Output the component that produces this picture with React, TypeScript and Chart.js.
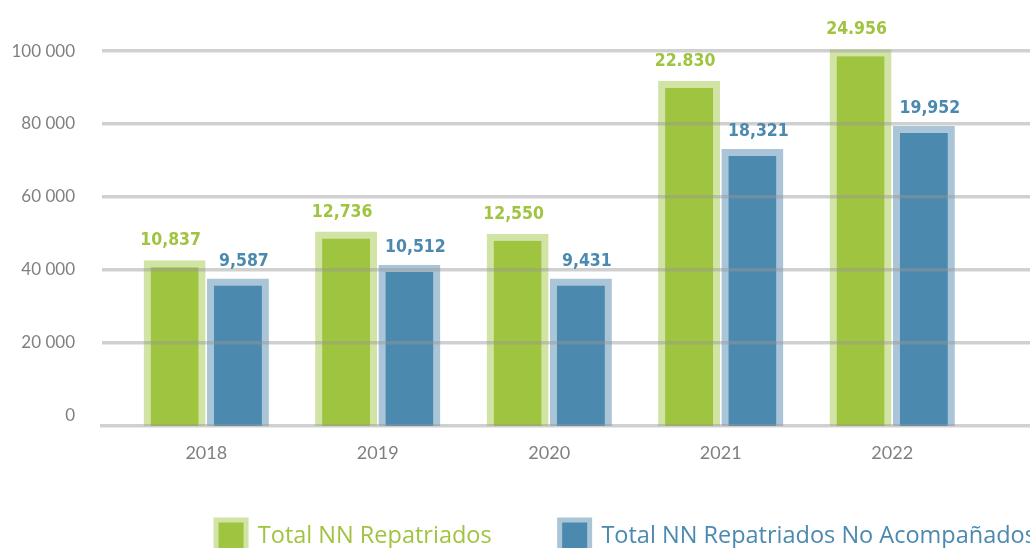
import React, { useEffect, useRef } from 'react';
import { Chart, registerables } from 'chart.js';

Chart.register(...registerables);

const years = ['2018', '2019', '2020', '2021', '2022'];
const seriesNames = ['Total NN Repatriados', 'Total NN Repatriados No Acompañados'];
const repatriados = [42500, 50400, 49800, 91800, 100500];
const noAcompanados = [37500, 41300, 37500, 73100, 79400];
const repatriadosLabels = ['10,837', '12,736', '12,550', '22.830', '24.956'];
const noAcompanadosLabels = ['9,587', '10,512', '9,431', '18,321', '19,952'];
const yTicks = [0, 20000, 40000, 60000, 80000, 100000];

const GREEN = '#9fc43f';
const GREEN_HALO = '#d1e4a6';
const BLUE = '#4b89af';
const BLUE_HALO = '#a9c5d7';
const GRID = 'rgba(150,150,150,0.45)';

const CANVAS_W = 1252;
const CANVAS_H = 576;
const LEGEND_PAD = 68;
const LEGEND_LIFT = 14;

const valueLabels = {
  id: 'valueLabels',
  afterDraw(chart: any) {
    const ctx = chart.ctx;
    const sets = [repatriadosLabels, noAcompanadosLabels];
    const colors = [GREEN, BLUE];
    const dx = [-4, 6];
    const gap = [15, 13];
    ctx.save();
    ctx.font = 'bold 17.5px "DejaVu Sans Condensed"';
    ctx.textAlign = 'center';
    ctx.textBaseline = 'alphabetic';
    chart.data.datasets.forEach((_ds: any, di: number) => {
      const meta = chart.getDatasetMeta(di);
      meta.data.forEach((el: any, i: number) => {
        ctx.fillStyle = colors[di];
        ctx.fillText(sets[di][i], el.x + dx[di], el.y - gap[di]);
      });
    });
    ctx.restore();
  },
};

const legendLift = {
  id: 'legendLift',
  afterLayout(chart: any) {
    if (chart.legend) {
      chart.legend.top -= LEGEND_LIFT;
      chart.legend.bottom -= LEGEND_LIFT;
    }
  },
};

const fmt = (v: number) => String(v).replace(/\B(?=(\d{3})+(?!\d))/g, ' ');

export default function App() {
  const ref = useRef<HTMLCanvasElement | null>(null);

  useEffect(() => {
    if (!ref.current) return;
    const chart = new Chart(ref.current, {
      type: 'bar',
      data: {
        datasets: [
          {
            label: seriesNames[0],
            data: repatriados.map((v, i) => ({ x: i, y: v })),
            backgroundColor: GREEN,
            borderColor: GREEN_HALO,
            borderWidth: 7,
            base: -3000,
          } as any,
          {
            label: seriesNames[1],
            data: noAcompanados.map((v, i) => ({ x: i, y: v })),
            backgroundColor: BLUE,
            borderColor: BLUE_HALO,
            borderWidth: 7,
            base: -3000,
          } as any,
        ],
      },
      options: {
        animation: false,
        responsive: true,
        maintainAspectRatio: false,
        datasets: { bar: { categoryPercentage: 0.738, barPercentage: 0.98 } } as any,
        layout: { padding: { top: 0, left: 0, right: 0, bottom: 0 } },
        plugins: {
          tooltip: { enabled: false },
          legend: {
            position: 'bottom',
            labels: {
              boxWidth: 30,
              boxHeight: 32,
              padding: LEGEND_PAD,
              font: { family: '"Open Sans"', size: 23.5 },
              generateLabels: (c: any) => {
                const items = (Chart.defaults.plugins.legend.labels as any).generateLabels(c);
                return items.map((it: any, i: number) => ({
                  ...it,
                  fontColor: [GREEN, BLUE][i],
                  lineWidth: 5,
                }));
              },
            },
          },
        },
        scales: {
          x: {
            type: 'linear',
            min: -0.608,
            max: 6.098,
            offset: false,
            afterBuildTicks: (s: any) => {
              s.ticks = years.map((_y, i) => ({ value: i }));
            },
            afterFit: (s: any) => {
              s.height = 40;
            },
            grid: { display: false, drawTicks: false, offset: false },
            border: { display: true, color: GRID, width: 3.5, z: 1 } as any,
            ticks: {
              padding: 16,
              color: '#808080',
              autoSkip: false,
              maxRotation: 0,
              font: { family: 'Lato', size: 18 },
              callback: (v: any) => years[v as number] ?? '',
            },
          },
          y: {
            min: -3000,
            max: 103800,
            afterBuildTicks: (s: any) => {
              s.ticks = yTicks.map((v) => ({ value: v }));
            },
            afterFit: (s: any) => {
              s.width = 102;
            },
            grid: {
              color: (c: any) => (c.tick && c.tick.value === 0 ? 'rgba(0,0,0,0)' : GRID),
              lineWidth: 3.5,
              drawTicks: false,
              z: 1,
            },
            border: { display: false },
            ticks: {
              padding: 27,
              color: '#808080',
              font: { family: 'Lato', size: 17 },
              callback: (v: any) => fmt(v as number),
            },
          },
        },
      },
      plugins: [valueLabels, legendLift],
    });
    return () => chart.destroy();
  }, []);

  return (
    <div style={{ position: 'fixed', left: 0, top: 0, width: 1030, height: 548, overflow: 'hidden', background: '#fff' }}>
      <div style={{ position: 'relative', width: CANVAS_W, height: CANVAS_H }}>
        <canvas ref={ref} />
      </div>
    </div>
  );
}
